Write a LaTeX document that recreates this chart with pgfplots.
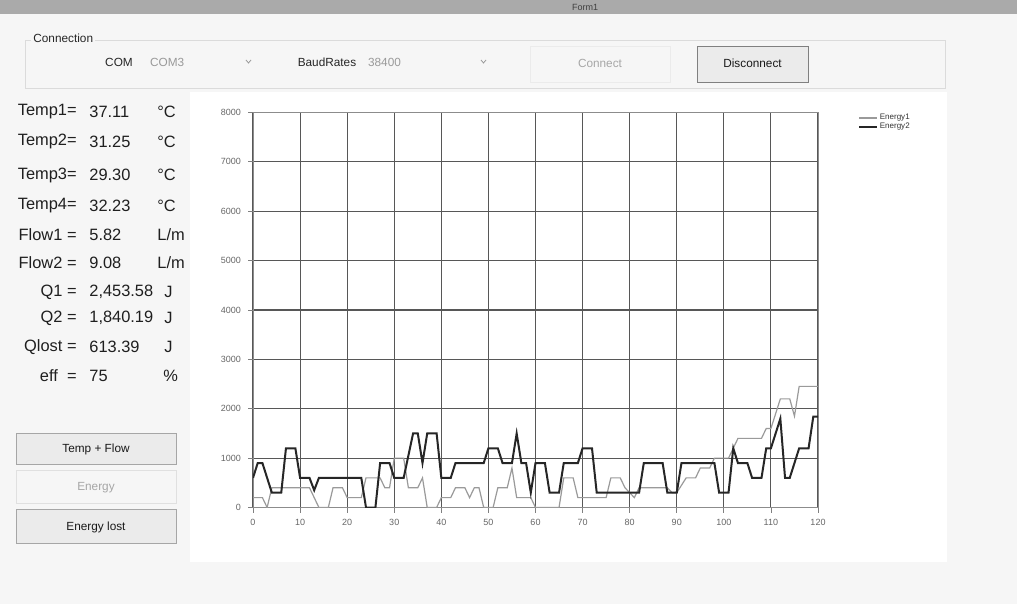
\documentclass[border=0pt]{standalone}
\usepackage{pgfplots}
\pgfplotsset{compat=1.18}
\usepackage{fontspec}
\setmainfont{Liberation Sans}
\definecolor{formbg}{HTML}{F6F6F6}
\definecolor{titlebar}{HTML}{AAAAAA}
\definecolor{btnbg}{HTML}{EBEBEB}
\definecolor{eone}{HTML}{9A9A9A}
\definecolor{etwo}{HTML}{262626}
\newcommand\uif{\fontsize{5.9}{7}\selectfont}
\newcommand\lbf{\fontsize{8.2}{9.5}\selectfont}
\begin{document}
\begin{tikzpicture}
\begin{scope}[x=0.5pt,y=-0.5pt]
\useasboundingbox (0,0) rectangle (1017,604);
\fill[formbg] (0,0) rectangle (1017,604);
\fill[titlebar] (0,0) rectangle (1017,14);
\node[font=\fontsize{4.5}{5}\selectfont, text=black!75] at (585,7) {Form1};
% connection group
\draw[black!14] (25,40) rectangle (945,88);
\node[anchor=west, fill=formbg, font=\uif, inner sep=1pt, text=black!85] at (31,38) {Connection};
\node[font=\uif, text=black!85] at (119,62) {COM};
\node[font=\uif, text=black!40, anchor=west] at (143,62) {COM3};
\draw[black!40, line width=0.4pt] (246,60) -- (248.5,63) -- (251,60);
\node[font=\uif, text=black!85] at (327,62) {BaudRates};
\node[font=\uif, text=black!40, anchor=west] at (361,62) {38400};
\draw[black!40, line width=0.4pt] (481,60) -- (483.5,63) -- (486,60);
\draw[black!8] (530,46) rectangle (670,82);
\node[font=\uif, text=black!35] at (600,63) {Connect};
\draw[black!50, fill=btnbg] (697,46) rectangle (808,82);
\node[font=\uif, text=black!90] at (752.5,63) {Disconnect};
% chart area
\fill[white] (190,92) rectangle (947,562);
% left labels
\foreach \y/\a/\b/\c/\ux in {111.7/Temp1=/37.11/°C/157, 141.7/Temp2=/31.25/°C/157, 175/Temp3=/29.30/°C/157, 206/Temp4=/32.23/°C/157, 235/Flow1 =/5.82/{L/m}/157, 263/Flow2 =/9.08/{L/m}/157, 292/Q1 =/{2,453.58}/J/164, 318/Q2 =/{1,840.19}/J/164, 347/Qlost =/613.39/J/164, 376/eff \ =/75/\%/163}{
  \node[font=\lbf, text=black!88, anchor=east, inner sep=0pt] at (77,\y) {\a};
  \node[font=\lbf, text=black!88, anchor=west, inner sep=0pt] at (89,\y) {\b};
  \node[font=\lbf, text=black!88, anchor=west, inner sep=0pt] at (\ux,\y) {\c};
}
% buttons
\draw[black!35, fill=btnbg] (16,433) rectangle (176,464);
\node[font=\uif, text=black!90] at (96,449) {Temp + Flow};
\draw[black!12] (16,470) rectangle (176,503);
\node[font=\uif, text=black!35] at (96,488) {Energy};
\draw[black!35, fill=btnbg] (16,509) rectangle (176,543);
\node[font=\uif, text=black!90] at (96,527) {Energy lost};
\end{scope}
\begin{axis}[
  at={(126.5pt,-253.75pt)}, anchor=south west,
  scale only axis, width=282.5pt, height=197.5pt,
  xmin=0, xmax=120, ymin=0, ymax=8000,
  xtick={0,10,...,120}, ytick={0,1000,...,8000},
  tick pos=left, tick align=outside, major tick length=2.5pt,
  grid=major, major grid style={black!66, line width=0.55pt},
  axis line style={black!45, line width=0.5pt},
  tick style={black!50, line width=0.4pt},
  ticklabel style={font=\fontsize{4.5}{5}\selectfont, text=black!60},
  scaled y ticks=false,
  /pgf/number format/.cd, 1000 sep={}, assume math mode=true, /pgfplots/.cd,
  legend style={at={(1.060,1.012)}, anchor=north west, draw=none, fill=none,
    font=\fontsize{4}{4.5}\selectfont, text=black!80, row sep=-1.2pt,
    nodes={inner sep=0.8pt}},
  legend cell align=left,
  legend image code/.code={\draw[#1] (0pt,0pt) -- (9pt,0pt);},
]
\addplot[eone, line width=0.6pt] coordinates {
(0,200)(2,200)(3,0)(4,400)(12,400)(14,0)(16,0)(17,400)(19,400)(20,200)(23,200)
(24,600)(27,600)(28,400)(29,400)(30,1000)(32,1000)(33,400)(35,400)(36,600)(37,0)
(39,0)(40,200)(42,200)(43,400)(45,400)(46,200)(47,400)(48,400)(49,0)(51,0)(52,400)
(54,400)(55,800)(56,200)(59,200)(60,0)(65,0)(66,600)(68,600)(69,200)(75,200)(76,600)
(78,600)(79,400)(81,200)(82,400)(88,400)(89,300)(90,300)(92,600)(94,600)(95,800)
(97,800)(98,1000)(101,1000)(102,1200)(103,1400)(108,1400)(109,1600)(110,1600)
(111,1900)(112,2200)(114,2200)(115,1850)(116,2453.58)(120,2453.58)
};
\addlegendentry{Energy1}
\addplot[etwo, line width=1pt] coordinates {
(0,600)(1,900)(2,900)(4,300)(6,300)(7,1200)(9,1200)(10,600)(12,600)(13,350)(14,600)
(23,600)(24,0)(26,0)(27,900)(29,900)(30,600)(32,600)(34,1500)(35,1500)(36,900)
(37,1500)(39,1500)(40,600)(42,600)(43,900)(49,900)(50,1200)(52,1200)(53,900)(55,900)
(56,1500)(57,900)(58,900)(59,300)(60,900)(62,900)(63,300)(65,300)(66,900)(69,900)
(70,1200)(72,1200)(73,300)(82,300)(83,900)(87,900)(88,300)(90,300)(91,900)(98,900)
(99,300)(101,300)(102,1200)(103,900)(105,900)(106,600)(108,600)(109,1200)(110,1200)
(112,1800)(113,600)(114,600)(116,1200)(118,1200)(119,1840.19)(120,1840.19)
};
\addlegendentry{Energy2}
\end{axis}
\end{tikzpicture}
\end{document}
